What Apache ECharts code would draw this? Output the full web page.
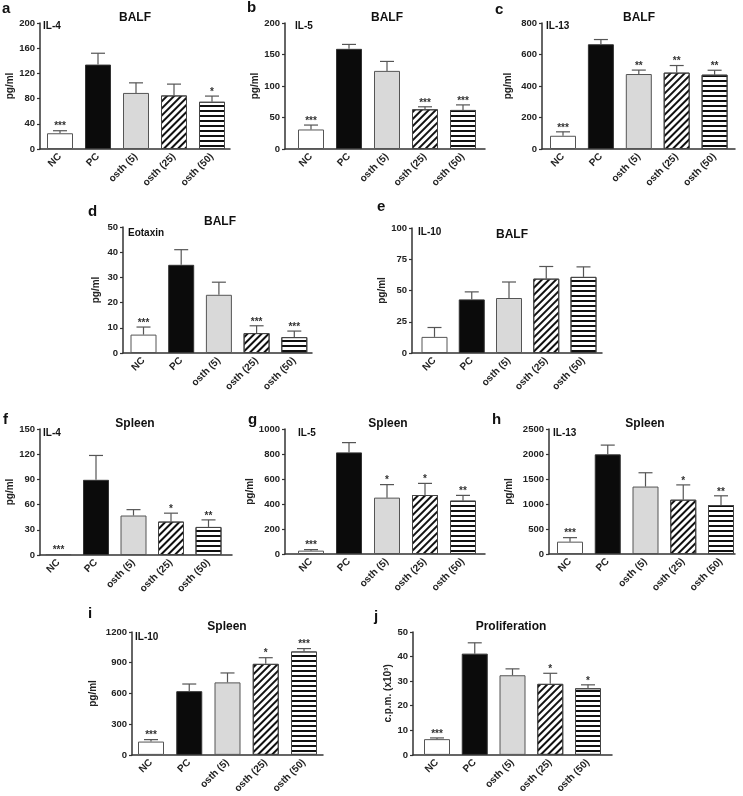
<!DOCTYPE html>
<html><head><meta charset="utf-8">
<script src="https://cdn.jsdelivr.net/npm/echarts@6/dist/echarts.min.js"></script>
<style>html,body{margin:0;padding:0;background:#fff}#c{width:743px;height:796px}</style>
</head><body><div id="c"></div>
<script>
const categories = ['NC', 'PC', 'osth (5)', 'osth (25)', 'osth (50)'];

// a: BALF IL-4
const aValues = [25, 134, 89, 85, 75];
const aErrors = [4, 18, 16, 18, 9];
const aStars = ['***', '', '', '', '*'];
// b: BALF IL-5
const bValues = [31, 159, 124, 63, 62];
const bErrors = [7, 7, 15, 4, 8];
const bStars = ['***', '', '', '***', '***'];
// c: BALF IL-13
const cValues = [84, 665, 476, 485, 472];
const cErrors = [25, 30, 25, 45, 28];
const cStars = ['***', '', '**', '**', '**'];
// d: BALF Eotaxin
const dValues = [7.3, 35, 23.1, 7.9, 6.3];
const dErrors = [3, 6, 5, 2.9, 2.4];
const dStars = ['***', '', '', '***', '***'];
// e: BALF IL-10
const eValues = [12.9, 42.9, 44, 59.5, 60.9];
const eErrors = [7.5, 6, 12.8, 9.7, 8];
const eStars = ['', '', '', '', ''];
// f: Spleen IL-4
const fValues = [1, 89.5, 47, 39.8, 33.4];
const fErrors = [0, 29, 7, 10, 8.4];
const fStars = ['***', '', '', '*', '**'];
// g: Spleen IL-5
const gValues = [27, 813, 451, 472, 427];
const gErrors = [8, 78, 104, 93, 42];
const gStars = ['***', '', '*', '*', '**'];
// h: Spleen IL-13
const hValues = [247, 1993, 1349, 1086, 980];
const hErrors = [80, 185, 276, 296, 184];
const hStars = ['***', '', '', '*', '**'];
// i: Spleen IL-10
const iValues = [130, 622, 708, 889, 1010];
const iErrors = [19, 70, 92, 60, 28];
const iStars = ['***', '', '', '*', '***'];
// j: Proliferation
const jValues = [6.4, 41.2, 32.4, 28.9, 27.1];
const jErrors = [0.5, 4.4, 2.6, 4.3, 1.4];
const jStars = ['***', '', '', '*', '*'];

const yMaxes = [200, 200, 800, 50, 100, 150, 1000, 2500, 1200, 50];
const ySteps = [40, 50, 200, 10, 25, 30, 200, 500, 300, 10];
const titles = ['BALF', 'BALF', 'BALF', 'BALF', 'BALF', 'Spleen', 'Spleen', 'Spleen', 'Spleen', 'Proliferation'];
const innerLabels = ['IL-4', 'IL-5', 'IL-13', 'Eotaxin', 'IL-10', 'IL-4', 'IL-5', 'IL-13', 'IL-10', ''];
const yNames = ['pg/ml', 'pg/ml', 'pg/ml', 'pg/ml', 'pg/ml', 'pg/ml', 'pg/ml', 'pg/ml', 'pg/ml', 'c.p.m. (x10³)'];
const letters = ['a', 'b', 'c', 'd', 'e', 'f', 'g', 'h', 'i', 'j'];

const FONT = '"Liberation Sans", Arial, sans-serif';

// layout (positions only)
const layout = [
  {grid: [40, 23, 190, 126], c0: 60, s: 38, gap: 24, letter: [2, 9], title: [135, 18], label: [43, 26]},
  {grid: [285, 23, 200, 126], c0: 311, s: 38, gap: 22, letter: [247, 8], title: [387, 18], label: [295, 26]},
  {grid: [542, 23, 193, 126], c0: 563, s: 37.9, gap: 29, letter: [495, 10], title: [639, 18], label: [546, 26]},
  {grid: [123, 227, 189, 126], c0: 143.5, s: 37.7, gap: 22, letter: [88, 212], title: [220, 222], label: [128, 233]},
  {grid: [412, 228, 190, 125], c0: 434.5, s: 37.25, gap: 20, letter: [377, 207], title: [512, 235], label: [418, 232]},
  {grid: [40, 429, 192, 126], c0: 58.5, s: 37.5, gap: 22, letter: [3, 420], title: [135, 424], label: [43, 433]},
  {grid: [285, 429, 200, 125], c0: 311, s: 38, gap: 22, letter: [248, 420], title: [388, 424], label: [298, 433]},
  {grid: [549, 429, 186, 125], c0: 570, s: 37.75, gap: 35, letter: [492, 420], title: [645, 424], label: [553, 433]},
  {grid: [132, 632, 191, 126], c0: 151, s: 38.25, gap: 34, letter: [88, 614], title: [227, 627], label: [135, 637]},
  {grid: [413, 632, 199, 126], c0: 437, s: 37.75, gap: 20, letter: [374, 617], title: [511, 627], label: [416, 637]}
];

const valuesList = [aValues, bValues, cValues, dValues, eValues, fValues, gValues, hValues, iValues, jValues];
const errorsList = [aErrors, bErrors, cErrors, dErrors, eErrors, fErrors, gErrors, hErrors, iErrors, jErrors];
const starsList = [aStars, bStars, cStars, dStars, eStars, fStars, gStars, hStars, iStars, jStars];

const diag = {symbol: 'rect', symbolSize: 1, dashArrayX: [1, 0], dashArrayY: [1.4, 2.6], rotation: -Math.PI / 4, color: '#111'};
const horiz = {symbol: 'rect', symbolSize: 1, dashArrayX: [1, 0], dashArrayY: [2, 3], rotation: 0, color: '#111'};
const barStyles = [
  {color: '#ffffff', borderColor: '#555', borderWidth: 1},
  {color: '#0b0b0b', borderColor: '#333', borderWidth: 1},
  {color: '#d9d9d9', borderColor: '#555', borderWidth: 1},
  {color: '#ffffff', borderColor: '#444', borderWidth: 1, decal: diag},
  {color: '#ffffff', borderColor: '#444', borderWidth: 1, decal: horiz}
];

const grids = [], xAxes = [], yAxes = [], series = [], graphics = [];
layout.forEach((L, i) => {
  const [gl, gt, gw, gh] = L.grid;
  grids.push({left: gl, top: gt, width: gw, height: gh, containLabel: false});
  const xMin = -(L.c0 - gl) / L.s;
  const xMax = xMin + gw / L.s;
  xAxes.push({
    gridIndex: i, type: 'value', min: xMin, max: xMax,
    axisLine: {show: true, onZero: false, lineStyle: {color: '#333', width: 1.5}},
    axisTick: {show: false}, splitLine: {show: false},
    axisLabel: {customValues: [0, 1, 2, 3, 4], formatter: v => categories[Math.round(v)],
      rotate: 45, fontWeight: 'bold', fontSize: 10, color: '#222', margin: 6, fontFamily: FONT}
  });
  yAxes.push({
    gridIndex: i, type: 'value', min: 0, max: yMaxes[i], interval: ySteps[i],
    axisLine: {show: true, onZero: false, lineStyle: {color: '#333', width: 1.5}},
    axisTick: {show: true, length: 3, lineStyle: {color: '#333', width: 1.2}},
    splitLine: {show: false},
    axisLabel: {formatter: v => String(v), fontWeight: 'bold', fontSize: 9.5, color: '#222', margin: 5, fontFamily: FONT},
    name: yNames[i], nameLocation: 'middle', nameGap: L.gap, nameRotate: 90,
    nameTextStyle: {fontWeight: 'bold', fontSize: 10, color: '#222', fontFamily: FONT}
  });
  const vals = valuesList[i], errs = errorsList[i], stars = starsList[i];
  series.push({
    type: 'bar', xAxisIndex: i, yAxisIndex: i, barWidth: 26, silent: true, animation: false,
    data: vals.map((v, k) => ({value: [k, v], itemStyle: barStyles[k]}))
  });
  series.push({
    type: 'custom', xAxisIndex: i, yAxisIndex: i, silent: true, animation: false, z: 5,
    data: vals.map((v, k) => [k, v, v + errs[k]]),
    renderItem: (params, api) => {
      const k = params.dataIndex;
      const v = api.value(1), top = api.value(2);
      const p0 = api.coord([k, v]), p1 = api.coord([k, top]);
      const ch = [];
      const ls = {stroke: '#555', lineWidth: 1.2};
      if (top > v) {
        ch.push({type: 'line', shape: {x1: p0[0], y1: p0[1], x2: p1[0], y2: p1[1]}, style: ls});
        ch.push({type: 'line', shape: {x1: p1[0] - 7, y1: p1[1], x2: p1[0] + 7, y2: p1[1]}, style: ls});
      }
      if (stars[k]) {
        ch.push({type: 'text', style: {text: stars[k], x: p1[0], y: p1[1] + 1, fill: '#333',
          font: 'bold 10px ' + FONT, textAlign: 'center', textVerticalAlign: 'bottom'}});
      }
      return {type: 'group', children: ch};
    }
  });
  graphics.push({type: 'text', style: {text: letters[i], x: L.letter[0], y: L.letter[1],
    font: 'bold 15px ' + FONT, fill: '#111', textAlign: 'left', textVerticalAlign: 'middle'}});
  graphics.push({type: 'text', style: {text: titles[i], x: L.title[0], y: L.title[1],
    font: 'bold 12px ' + FONT, fill: '#111', textAlign: 'center', textVerticalAlign: 'middle'}});
  if (innerLabels[i]) {
    graphics.push({type: 'text', style: {text: innerLabels[i], x: L.label[0], y: L.label[1],
      font: 'bold 10px ' + FONT, fill: '#111', textAlign: 'left', textVerticalAlign: 'middle'}});
  }
});

const chart = echarts.init(document.getElementById('c'), null, {renderer: 'canvas'});
chart.setOption({
  animation: false,
  backgroundColor: '#ffffff',
  textStyle: {fontFamily: FONT},
  grid: grids, xAxis: xAxes, yAxis: yAxes, series: series, graphic: graphics
});
</script>
</body></html>
